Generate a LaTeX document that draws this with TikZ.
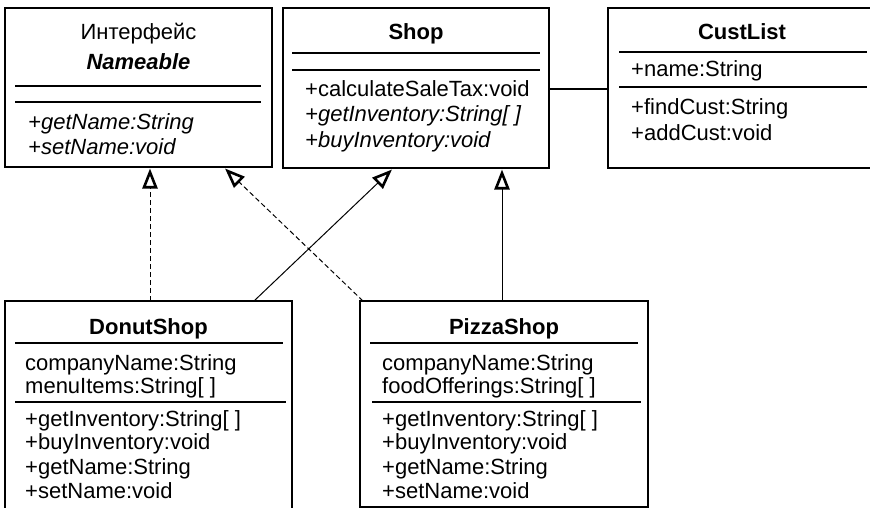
\documentclass[tikz,border=0pt]{standalone}
\usepackage{fontspec}
\setmainfont{Liberation Sans}
\usetikzlibrary{arrows.meta,calc}
\tikzset{
  box/.style={draw, line width=1.3pt, anchor=north west, inner sep=0pt, outer sep=0pt},
  sepline/.style={line width=1.3pt},
  txt/.style={anchor=base west, inner sep=0pt, font=\fontsize{22}{25}\selectfont},
  itxt/.style={anchor=base west, inner sep=0pt, font=\fontsize{22}{25}\selectfont\itshape},
  ctxt/.style={anchor=base, inner sep=0pt, font=\fontsize{22}{25}\selectfont},
  ttl/.style={anchor=base, inner sep=0pt, font=\fontsize{22}{25}\selectfont\bfseries},
  ittl/.style={anchor=base, inner sep=0pt, font=\fontsize{22}{25}\selectfont\bfseries\itshape},
  realize/.style={line width=1pt, -{Triangle[open,length=20pt,width=15pt,line width=2.6pt]}},
  implem/.style={realize, dash pattern=on 5pt off 3pt},
  assoc/.style={line width=1.1pt},
}
\begin{document}
\begin{tikzpicture}[x=1pt,y=-1pt]
\useasboundingbox (0,0) rectangle (870,508);
\clip (0,0) rectangle (870,508);
\fill[white] (0,0) rectangle (870,508);

% Nameable
\node[box, minimum width=267pt, minimum height=159pt] (nameable) at (5,8) {};
\node[ctxt] (nameableK) at (138.5,39.5) {Интерфейс};
\node[ittl] (nameableT) at (138.5,70) {Nameable};
\draw[sepline] (15,86) -- (261,86);
\draw[sepline] (15,102) -- (261,102);
\node[itxt] (nameableM1) at (28,129.5) {+getName:String};
\node[itxt] (nameableM2) at (28,154.5) {+setName:void};

% Shop
\node[box, minimum width=266pt, minimum height=160pt] (shop) at (283,8) {};
\node[ttl] (shopT) at (416,39.5) {Shop};
\draw[sepline] (292,53) -- (540,53);
\draw[sepline] (292,70) -- (540,70);
\node[txt] (shopM1) at (305,97) {+calculateSaleTax:void};
\node[itxt] (shopM2) at (305,122) {+getInventory:String[ ]};
\node[itxt] (shopM3) at (305,147) {+buyInventory:void};

% CustList
\node[box, minimum width=272pt, minimum height=160pt] (cust) at (608,8) {};
\node[ttl] (custT) at (742,39.5) {CustList};
\draw[sepline] (619,52) -- (867,52);
\node[txt] (custA1) at (631,77) {+name:String};
\draw[sepline] (619,87) -- (867,87);
\node[txt] (custM1) at (631,115) {+findCust:String};
\node[txt] (custM2) at (631,141) {+addCust:void};

% DonutShop
\node[box, minimum width=287pt, minimum height=230pt] (donut) at (5,301) {};
\node[ttl] (donutT) at (148.5,334) {DonutShop};
\draw[sepline] (15,343) -- (283,343);
\node[txt] (donutA1) at (25,370) {companyName:String};
\node[txt] (donutA2) at (25,393.5) {menuItems:String[ ]};
\draw[sepline] (15,402) -- (286,402);
\node[txt] (donutM1) at (25,426) {+getInventory:String[ ]};
\node[txt] (donutM2) at (25,449.5) {+buyInventory:void};
\node[txt] (donutM3) at (25,474) {+getName:String};
\node[txt] (donutM4) at (25,498) {+setName:void};

% PizzaShop
\node[box, minimum width=288pt, minimum height=206pt] (pizza) at (360,301) {};
\node[ttl] (pizzaT) at (504,334) {PizzaShop};
\draw[sepline] (370,343) -- (638,343);
\node[txt] (pizzaA1) at (382,370) {companyName:String};
\node[txt] (pizzaA2) at (382,393.5) {foodOfferings:String[ ]};
\draw[sepline] (372,402) -- (641,402);
\node[txt] (pizzaM1) at (382,426) {+getInventory:String[ ]};
\node[txt] (pizzaM2) at (382,449.5) {+buyInventory:void};
\node[txt] (pizzaM3) at (382,474) {+getName:String};
\node[txt] (pizzaM4) at (382,498) {+setName:void};

% connectors
\draw[implem] ($(donut.north west)+(145,0)$) -- ($(nameable.south west)+(145,1.5)$);
\draw[implem] ($(pizza.north west)+(3,0)$) -- ($(nameable.south west)+(220,1.5)$);
\draw[realize] ($(donut.north west)+(249,0)$) -- ($(shop.south west)+(109,1.5)$);
\draw[realize] ($(pizza.north west)+(142,0)$) -- ($(shop.south west)+(219,1.5)$);
\draw[assoc] ($(shop.north east)+(0,81)$) -- ($(cust.north west)+(0,81)$);
\end{tikzpicture}
\end{document}
